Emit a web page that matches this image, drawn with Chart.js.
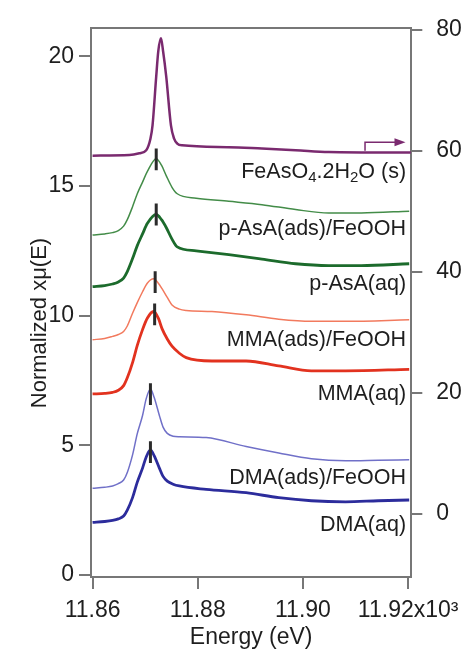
<!DOCTYPE html>
<html>
<head>
<meta charset="utf-8">
<script src="https://cdn.jsdelivr.net/npm/chart.js@4.4.0/dist/chart.umd.min.js"></script>
<style>
html, body { margin: 0; padding: 0; background: #fff; }
#xanes { display: block; }
</style>
</head>
<body>
<canvas id="xanes" width="467" height="651"></canvas>
<script>
// energies in keV (axis shows x10^3 eV)
const dmaEnergy = [11.860, 11.8623, 11.8638, 11.8649, 11.8659, 11.8666, 11.8676, 11.8685, 11.8695, 11.8702, 11.871, 11.8717, 11.8727, 11.8734, 11.8742, 11.8753, 11.8765, 11.8816, 11.8892, 11.8954, 11.9016, 11.9081, 11.9143, 11.9202];
const dmaAq = [2.03, 2.06, 2.1, 2.16, 2.27, 2.5, 2.98, 3.58, 4.12, 4.55, 4.82, 4.6, 4.12, 3.8, 3.62, 3.5, 3.43, 3.30, 3.17, 2.98, 2.86, 2.82, 2.86, 2.89];
const dmaAds = [3.34, 3.38, 3.43, 3.52, 3.66, 3.95, 4.63, 5.45, 6.15, 6.8, 7.17, 6.85, 6.15, 5.7, 5.46, 5.35, 5.33, 5.3, 4.95, 4.7, 4.48, 4.4, 4.42, 4.44];

const mmaEnergy = [11.860, 11.8623, 11.8638, 11.8649, 11.8659, 11.8666, 11.8676, 11.8685, 11.8695, 11.8704, 11.8716, 11.8725, 11.8732, 11.8742, 11.8751, 11.8765, 11.8778, 11.8827, 11.8892, 11.8954, 11.9016, 11.9081, 11.9202];
const mmaAq = [6.98, 7.0, 7.04, 7.12, 7.3, 7.6, 8.19, 8.85, 9.46, 9.9, 10.16, 9.9, 9.5, 9.1, 8.82, 8.55, 8.38, 8.25, 8.25, 8.06, 7.87, 7.87, 7.93];
const mmaAds = [9.07, 9.12, 9.2, 9.27, 9.39, 9.6, 10.09, 10.5, 10.92, 11.25, 11.42, 11.25, 11.04, 10.7, 10.41, 10.25, 10.2, 10.16, 10.03, 9.86, 9.78, 9.78, 9.84];

const pasaEnergy = [11.860, 11.8623, 11.8638, 11.8649, 11.8659, 11.8666, 11.8676, 11.8685, 11.8695, 11.8704, 11.8721, 11.8731, 11.874, 11.8751, 11.8761, 11.8797, 11.8859, 11.8922, 11.8986, 11.9049, 11.9111, 11.9202];
const pasaAq = [11.12, 11.16, 11.22, 11.3, 11.45, 11.7, 12.2, 12.7, 13.15, 13.55, 13.9, 13.7, 13.4, 12.95, 12.65, 12.5, 12.35, 12.18, 12.0, 11.93, 11.93, 12.0];
const pasaAds = [13.11, 13.15, 13.2, 13.28, 13.45, 13.7, 14.2, 14.7, 15.15, 15.55, 16.05, 15.8, 15.4, 14.95, 14.7, 14.53, 14.41, 14.28, 14.09, 13.96, 13.96, 14.03];

// FeAsO4.2H2O on the right axis
const feEnergy = [11.860, 11.867, 11.8689, 11.8702, 11.871, 11.8714, 11.8721, 11.8725, 11.873, 11.8734, 11.874, 11.8749, 11.8755, 11.8761, 11.877, 11.8859, 11.8922, 11.8986, 11.9049, 11.9205];
const feValues = [59.2, 59.3, 59.6, 60.1, 62, 64.2, 72.3, 76.5, 78.6, 76.5, 72.3, 64.2, 62, 61.2, 60.9, 60.6, 60.36, 60.1, 59.8, 59.7];

// white-line markers: DMA(aq), DMA(ads), MMA(aq), MMA(ads), p-AsA(aq), p-AsA(ads)
const peakEnergy = [11.871, 11.871, 11.8718, 11.8719, 11.8721, 11.8721];
const peakLevel = [4.74, 6.97, 10.05, 11.29, 13.9, 16.03];

const labelText = ['FeAsO_4.2H_2O (s)', 'p-AsA(ads)/FeOOH', 'p-AsA(aq)', 'MMA(ads)/FeOOH', 'MMA(aq)', 'DMA(ads)/FeOOH', 'DMA(aq)'];
const labelLevel = [15.55, 13.33, 11.23, 9.07, 6.98, 3.74, 1.94];

const leftTicks = [0, 5, 10, 15, 20];
const rightTicks = [0, 20, 40, 60, 80];

const FONT = "'Liberation Sans', Arial, sans-serif";

function pts(xs, ys) {
    return xs.map((x, i) => ({ x: x, y: ys[i] }));
}

function curve(xs, ys, color, width, axis) {
    return {
        data: pts(xs, ys),
        borderColor: color,
        borderWidth: width,
        pointRadius: 0,
        cubicInterpolationMode: 'monotone',
        yAxisID: axis || 'y',
        fill: false
    };
}

const markerSets = peakEnergy.map((e, i) => ({
    data: [{ x: e, y: peakLevel[i] - 0.42 }, { x: e, y: peakLevel[i] + 0.42 }],
    borderColor: '#2b2b2b',
    borderWidth: 3,
    pointRadius: 0,
    yAxisID: 'y'
}));

const annotations = {
    id: 'annotations',
    afterDatasetsDraw(chart) {
        const ctx = chart.ctx;
        const x = chart.scales.x, y = chart.scales.y, y1 = chart.scales.y1;
        ctx.save();
        // curve labels, right aligned
        const right = x.getPixelForValue(11.9196);
        labelText.forEach((t, i) => {
            const parts = [];
            for (let k = 0; k < t.length; k++) {
                if (t[k] === '_') { parts.push({ s: t[k + 1], sub: true }); k++; }
                else if (parts.length && !parts[parts.length - 1].sub) parts[parts.length - 1].s += t[k];
                else parts.push({ s: t[k], sub: false });
            }
            let w = 0;
            parts.forEach(p => {
                ctx.font = (p.sub ? '15px ' : '21.5px ') + FONT;
                p.w = ctx.measureText(p.s).width;
                w += p.w;
            });
            let cx = right - w;
            const cy = y.getPixelForValue(labelLevel[i]);
            ctx.fillStyle = '#1e1e1e';
            ctx.textBaseline = 'middle';
            ctx.textAlign = 'left';
            parts.forEach(p => {
                ctx.font = (p.sub ? '15px ' : '21.5px ') + FONT;
                ctx.fillText(p.s, cx, p.sub ? cy + 6 : cy);
                cx += p.w;
            });
        });
        // arrow showing FeAsO4 uses right axis
        const ax = x.getPixelForValue(11.9118), ax2 = x.getPixelForValue(11.9195);
        const ay0 = y1.getPixelForValue(60), ay1 = y1.getPixelForValue(61.4);
        ctx.strokeStyle = '#7a2a6f';
        ctx.fillStyle = '#7a2a6f';
        ctx.lineWidth = 1.5;
        ctx.beginPath();
        ctx.moveTo(ax, ay0);
        ctx.lineTo(ax, ay1);
        ctx.lineTo(ax2 - 9, ay1);
        ctx.stroke();
        ctx.beginPath();
        ctx.moveTo(ax2, ay1);
        ctx.lineTo(ax2 - 11, ay1 - 4);
        ctx.lineTo(ax2 - 11, ay1 + 4);
        ctx.closePath();
        ctx.fill();
        // left axis title
        ctx.translate(40, 323);
        ctx.rotate(-Math.PI / 2);
        ctx.font = '22px ' + FONT;
        ctx.fillStyle = '#1e1e1e';
        ctx.textAlign = 'center';
        ctx.textBaseline = 'middle';
        ctx.fillText('Normalized x\u03bc(E)', 0, 0);
        ctx.restore();
    }
};

const axisGrid = { display: true, drawOnChartArea: false, drawTicks: true, tickLength: 12, color: '#777', lineWidth: 2 };
const axisBorder = { display: true, color: '#777', width: 2 };
const tickFont = { family: FONT, size: 23 };

new Chart(document.getElementById('xanes'), {
    type: 'line',
    data: {
        datasets: markerSets.concat([
            curve(feEnergy, feValues, '#7a2a6f', 2.5, 'y1'),
            curve(pasaEnergy, pasaAds, '#438c48', 1.5),
            curve(pasaEnergy, pasaAq, '#1c6b2c', 2.8),
            curve(mmaEnergy, mmaAds, '#f27a5e', 1.5),
            curve(mmaEnergy, mmaAq, '#e2321f', 2.8),
            curve(dmaEnergy, dmaAds, '#7070c8', 1.5),
            curve(dmaEnergy, dmaAq, '#2c2c9c', 2.8)
        ])
    },
    options: {
        responsive: false,
        animation: false,
        layout: { padding: 0 },
        plugins: { legend: { display: false }, tooltip: { enabled: false } },
        scales: {
            x: {
                type: 'linear', position: 'bottom', min: 11.8597, max: 11.9206,
                ticks: {
                    stepSize: 0.02, includeBounds: false, autoSkip: false, maxRotation: 0,
                    font: tickFont, color: '#1e1e1e', padding: 8,
                    callback: v => Math.abs(v - 11.92) < 1e-6 ? '11.92x10\u00b3' : v.toFixed(2)
                },
                grid: axisGrid, border: axisBorder,
                title: { display: true, text: 'Energy (eV)', font: { family: FONT, size: 23 }, color: '#1e1e1e', padding: { top: 0, bottom: 0 } },
                afterFit: s => { s.height = 74; }
            },
            xTop: {
                type: 'linear', position: 'top', min: 11.8597, max: 11.9206,
                ticks: { display: false }, grid: { display: false }, border: axisBorder,
                afterFit: s => { s.height = 21; }
            },
            y: {
                position: 'left', min: -0.08, max: 21.1,
                afterBuildTicks: s => { s.ticks = leftTicks.map(v => ({ value: v })); },
                ticks: { font: tickFont, color: '#1e1e1e', padding: 5 },
                grid: axisGrid, border: axisBorder,
                afterFit: s => { s.width = 91; }
            },
            y1: {
                position: 'right', min: -10.45, max: 80.33,
                afterBuildTicks: s => { s.ticks = rightTicks.map(v => ({ value: v })); },
                ticks: { font: tickFont, color: '#1e1e1e', padding: 14 },
                grid: Object.assign({}, axisGrid, { tickLength: 11 }), border: axisBorder,
                afterFit: s => { s.width = 54; }
            }
        }
    },
    plugins: [annotations]
});
</script>
</body>
</html>
